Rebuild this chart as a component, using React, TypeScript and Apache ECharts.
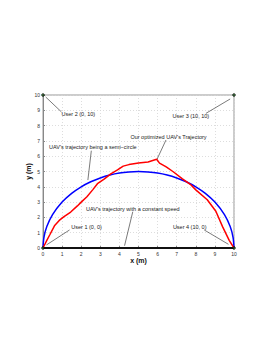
import React, { useEffect, useRef } from "react";
import * as echarts from "echarts";

const xTicks = [0, 1, 2, 3, 4, 5, 6, 7, 8, 9, 10];

// Semi-circle trajectory
const semiCircle: number[][] = [
  [0, 0], [0.05, 0.7], [0.2, 1.4], [0.5, 2.18], [1, 3.0], [1.5, 3.57], [2, 4.0],
  [2.5, 4.33], [3, 4.58], [3.5, 4.77], [4, 4.9], [4.5, 4.97], [5, 5.0],
  [5.5, 4.97], [6, 4.9], [6.5, 4.77], [7, 4.58], [7.5, 4.33], [8, 4.0],
  [8.5, 3.57], [9, 3.0], [9.5, 2.18], [9.8, 1.4], [9.95, 0.7], [10, 0],
];

// Optimized trajectory
const optimized: number[][] = [
  [0, 0], [0.2, 0.5], [0.35, 0.85], [0.6, 1.45], [0.85, 1.8], [1.1, 2.05],
  [1.45, 2.35], [1.8, 2.75], [2.0, 3.0], [2.3, 3.35], [2.6, 3.8], [2.85, 4.2],
  [3.2, 4.5], [3.55, 4.85], [3.9, 5.1], [4.2, 5.35], [4.5, 5.45], [5.0, 5.55],
  [5.5, 5.62], [5.95, 5.8], [6.1, 5.55], [6.45, 5.3], [6.8, 5.0], [7.3, 4.52],
  [7.75, 4.12], [8.0, 3.8], [8.6, 3.15], [9.05, 2.4], [9.4, 1.4], [9.75, 0.5],
  [10, 0],
];

// Constant speed trajectory
const constantSpeed: number[][] = [[0, 0], [10, 0]];

// Users
const users: number[][] = [[0, 0], [0, 10], [10, 10], [10, 0]];

// Annotations: text, text center, arrow tail, arrow tip
const annTexts = [
  "User 2 (0, 10)",
  "User 3 (10, 10)",
  "Our optimized UAV's Trajectory",
  "UAV's trajectory being a semi\u2212circle",
  "UAV's trajectory with a constant speed",
  "User 1 (0, 0)",
  "User 4 (10, 0)",
];
const annCenters: number[][] = [
  [1.85, 8.74], [7.74, 8.63], [6.57, 7.27], [2.61, 6.62], [4.7, 2.55], [2.28, 1.39], [7.68, 1.39],
];
const annTails: number[][] = [
  [0.96, 8.9], [8.53, 8.8], [6.44, 7.06], [2.53, 6.36], [4.7, 2.37], [1.39, 1.18], [8.44, 1.18],
];
const annTips: number[][] = [
  [0.14, 9.87], [9.8, 9.74], [5.97, 5.8], [2.35, 4.44], [4.27, 0.15], [0.18, 0.2], [9.71, 0.24],
];

const FONT = "'Liberation Sans', Arial, Helvetica, sans-serif";

export default function App() {
  const ref = useRef<HTMLDivElement>(null);
  useEffect(() => {
    if (!ref.current) return;
    const chart = echarts.init(ref.current, null, { renderer: "svg" });
    const axisCommon = {
      type: "value" as const,
      min: 0,
      max: 10,
      interval: 1,
      nameMoveOverlap: false,
      axisLine: { show: true, lineStyle: { color: "#888", width: 1 } },
      axisTick: { show: true, inside: true, length: 2, lineStyle: { color: "#888" } },
      splitLine: { show: true, lineStyle: { color: "#d4d4d4", type: [1, 2] as any, width: 0.8 } },
      axisLabel: { fontSize: 5, color: "#333", fontFamily: FONT, margin: 3 },
      nameTextStyle: { fontSize: 7, fontWeight: "bold" as const, color: "#111", fontFamily: FONT },
    };
    chart.setOption({
      animation: false,
      backgroundColor: "#fff",
      grid: { left: 43, right: 36, top: 95, bottom: 101, show: true, borderColor: "#999", borderWidth: 1 },
      xAxis: {
        ...axisCommon,
        name: "x (m)",
        nameLocation: "middle",
        nameGap: 9,
        axisLabel: { ...axisCommon.axisLabel, formatter: (v: number) => (xTicks.includes(v) ? String(v) : "") },
      },
      yAxis: {
        ...axisCommon,
        name: "y (m)",
        nameLocation: "middle",
        nameGap: 11,
      },
      series: [
        {
          type: "line",
          data: constantSpeed,
          symbol: "none",
          lineStyle: { color: "#111", width: 2 },
          z: 3,
        },
        {
          type: "line",
          data: semiCircle,
          smooth: 0.3,
          symbol: "none",
          lineStyle: { color: "#0000ff", width: 1.5 },
          z: 4,
        },
        {
          type: "line",
          data: optimized,
          symbol: "none",
          lineStyle: { color: "#ff0000", width: 1.5 },
          z: 5,
          markLine: {
            silent: true,
            symbol: ["none", "arrow"],
            symbolSize: [0, 5],
            label: { show: false },
            lineStyle: { color: "#222", width: 0.6, type: "solid" },
            data: annTails.map((t, i) => [{ coord: t }, { coord: annTips[i] }]),
          },
          markPoint: {
            silent: true,
            symbol: "circle",
            symbolSize: 0,
            label: {
              show: true,
              position: "inside",
              fontSize: 5.5,
              color: "#222",
              fontFamily: FONT,
              formatter: (p: any) => p.name,
            },
            data: annTexts.map((t, i) => ({ name: t, coord: annCenters[i] })),
          },
        },
        {
          type: "scatter",
          data: users,
          symbol: "circle",
          symbolSize: 3,
          itemStyle: { color: "#0b3d0b", borderColor: "#000", borderWidth: 0.5 },
          clip: false,
          z: 10,
        },
      ],
    });
    return () => chart.dispose();
  }, []);
  return (
    <div
      ref={ref}
      style={{ position: "fixed", left: 0, top: 0, width: 270, height: 349, background: "#fff" }}
    />
  );
}
